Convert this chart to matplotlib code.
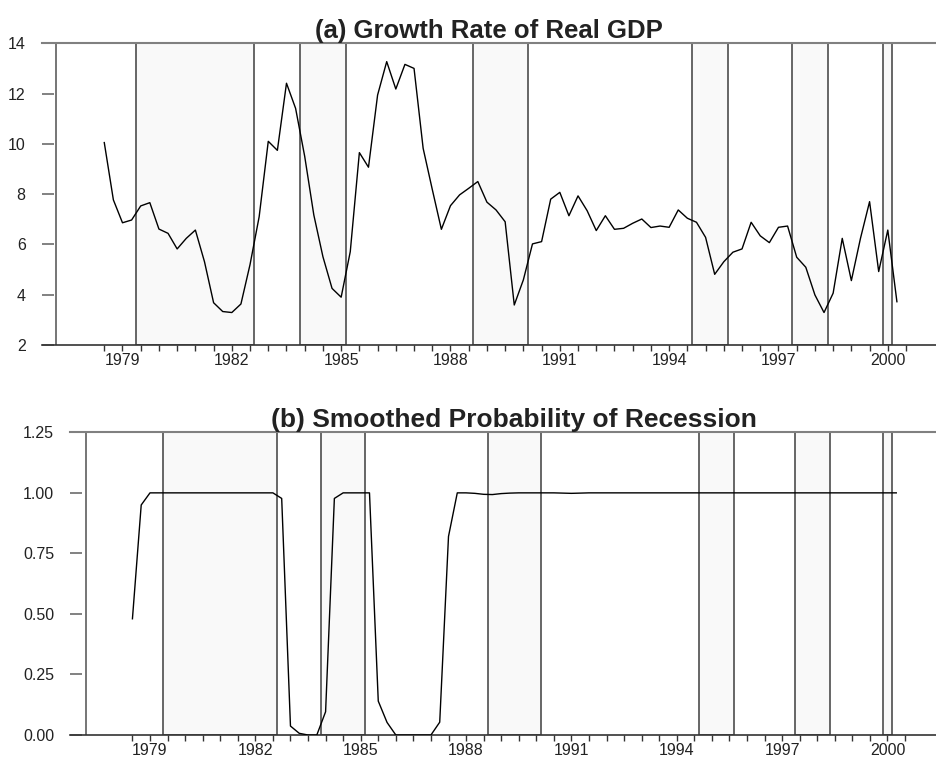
import numpy as np
import matplotlib.pyplot as plt
import matplotlib as mpl

mpl.rcParams.update({
    'font.family': ['Liberation Sans', 'DejaVu Sans'],
    'text.color': '#222222',
    'xtick.color': '#333333',
    'ytick.color': '#777777',
    'xtick.labelcolor': '#222222',
    'ytick.labelcolor': '#222222',
})

# quarterly sample, 1978:3 - 2000:2
start_year = 1978.5
n_obs = 88

gdp_growth = [
    10.05, 7.77, 6.86, 6.97, 7.53, 7.66, 6.61, 6.44, 5.82, 6.24,
    6.57, 5.31, 3.68, 3.33, 3.29, 3.63, 5.20, 7.10, 10.10, 9.74,
    12.41, 11.41, 9.50, 7.17, 5.51, 4.25, 3.90, 5.71, 9.65, 9.07,
    11.94, 13.27, 12.18, 13.16, 13.00, 9.82, 8.19, 6.60, 7.54, 7.97,
    8.23, 8.50, 7.68, 7.37, 6.90, 3.59, 4.59, 6.02, 6.11, 7.80,
    8.07, 7.14, 7.93, 7.34, 6.55, 7.14, 6.60, 6.64, 6.84, 7.01,
    6.67, 6.73, 6.68, 7.37, 7.04, 6.88, 6.28, 4.81, 5.31, 5.69,
    5.82, 6.88, 6.34, 6.07, 6.68, 6.73, 5.49, 5.09, 3.99, 3.29,
    4.06, 6.24, 4.56, 6.24, 7.70, 4.92, 6.57, 3.72,
]

prob_recession = [
    0.48, 0.95, 1.00, 1.00, 1.00, 1.00, 1.00, 1.00, 1.00, 1.00,
    1.00, 1.00, 1.00, 1.00, 1.00, 1.00, 1.00, 0.977, 0.037, 0.007,
    0.00, 0.00, 0.096, 0.977, 1.00, 1.00, 1.00, 1.00, 0.14, 0.052,
    0.00, 0.00, 0.00, 0.00, 0.00, 0.053, 0.82, 1.00, 1.00, 0.998,
    0.994, 0.993, 0.997, 0.999, 1.00, 1.00, 1.00, 1.00, 1.00, 0.999,
    0.998, 0.999, 1.00, 1.00, 1.00, 1.00, 1.00, 1.00, 1.00, 1.00,
    1.00, 1.00, 1.00, 1.00, 1.00, 1.00, 1.00, 1.00, 1.00, 1.00,
    1.00, 1.00, 1.00, 1.00, 1.00, 1.00, 1.00, 1.00, 1.00, 1.00,
    1.00, 1.00, 1.00, 1.00, 1.00, 1.00, 1.00, 1.00,
]

# recession episodes (start, end) in fractional years
recession_start = [1979.38, 1983.88, 1988.63, 1994.62, 1997.37, 1999.87]
recession_end = [1982.62, 1985.125, 1990.13, 1995.62, 1998.37, 2000.12]
early_marker = 1977.17

year_labels = [1979, 1982, 1985, 1988, 1991, 1994, 1997, 2000]

dates = start_year + 0.25 * np.arange(n_obs)


def style_axis(ax, xlim, ylim, yticks, yfmt):
    for (a, b) in zip(recession_start, recession_end):
        ax.axvspan(a, b, facecolor='#f9f9f9', edgecolor='#5a5a5a',
                   linewidth=1.3, zorder=1)
    ax.axvline(early_marker, color='#6a6a6a', linewidth=1.3, zorder=1)

    ax.set_xlim(*xlim)
    ax.set_ylim(*ylim)

    ax.spines['left'].set_visible(False)
    ax.spines['right'].set_visible(False)
    ax.spines['top'].set_color('#808080')
    ax.spines['top'].set_linewidth(1.5)
    ax.spines['bottom'].set_color('#333333')
    ax.spines['bottom'].set_linewidth(1.2)

    ax.set_xticks(year_labels)
    ax.set_xticklabels([str(y) for y in year_labels])
    ax.set_xticks(np.arange(1978.5, 2000.6, 0.5), minor=True)
    ax.tick_params(axis='x', which='both', direction='out', length=4,
                   width=1.0, labelsize=11.5, pad=2)

    ax.set_yticks(yticks)
    ax.set_yticklabels([yfmt.format(v) for v in yticks])
    ax.tick_params(axis='y', direction='in', length=8.5, width=1.3,
                   labelsize=11.5, pad=11.5)
    ax.tick_params(axis='y', which='both', left=True, right=False)


fig = plt.figure(figsize=(9.37, 7.59), dpi=100)

# (a) growth rate
ax1 = fig.add_axes([0.0445, 0.5455, 0.9555, 0.3975])
style_axis(ax1, (1976.783, 2001.35), (2, 14), [2, 4, 6, 8, 10, 12, 14], '{:g}')
ax1.plot(dates, gdp_growth, color='black', linewidth=1.0, zorder=3)
ax1.set_title('(a) Growth Rate of Real GDP', fontsize=18.5, fontweight='bold',
              pad=3)

# (b) smoothed probability
ax2 = fig.add_axes([0.0747, 0.0316, 0.9253, 0.3988])
style_axis(ax2, (1976.722, 2001.41), (0, 1.25),
           [0.0, 0.25, 0.5, 0.75, 1.0, 1.25], '{:.2f}')
ax2.plot(dates, prob_recession, color='black', linewidth=1.0, zorder=3)
ax2.set_title('(b) Smoothed Probability of Recession', fontsize=19,
              fontweight='bold', pad=3, x=0.5115)

fig.savefig('out.png', dpi=100)
